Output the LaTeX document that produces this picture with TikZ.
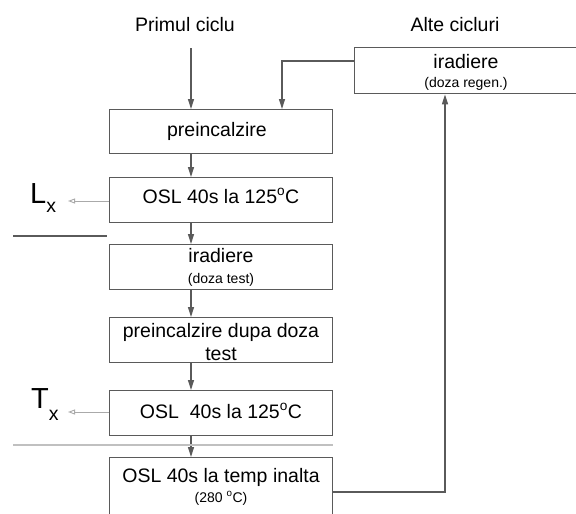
\documentclass[tikz,border=0pt]{standalone}
\usepackage{fontspec}
\setmainfont{Liberation Sans}
\usetikzlibrary{arrows.meta}
\definecolor{ln}{HTML}{5A5A5A}
\definecolor{lg}{HTML}{AAAAAA}
\definecolor{hl}{HTML}{C0C0C0}
\begin{document}
\begin{tikzpicture}[x=1pt,y=-1pt,
  boxn/.style={draw=ln, line width=1.4pt, minimum width=223pt, minimum height=45pt, inner sep=0pt, anchor=north west},
  big/.style={font=\fontsize{19.5}{21}\selectfont, inner sep=0pt, anchor=base},
  small/.style={font=\fontsize{14}{16}\selectfont, inner sep=0pt, anchor=base},
  conn/.style={draw=ln, line width=1.4pt, -{Triangle[length=10pt,width=6pt]}},
  side/.style={draw=lg, line width=0.9pt, -{Triangle[open,length=7pt,width=5pt]}},
]
\useasboundingbox (0,0) rectangle (576,514);
\clip (0,0) rectangle (576,514);

% boxes
\node[boxn, minimum height=44pt] (b1) at (109,109) {};
\node[boxn] (b2) at (109,177) {};
\node[boxn] (b3) at (109,244) {};
\node[boxn] (b4) at (109,317) {};
\node[boxn] (b5) at (109,390) {};
\node[boxn, minimum height=71pt] (b6) at (109,457) {};
\node[boxn, minimum width=232pt, minimum height=46pt] (r) at (354,47) {};

% titles
\node[big] (t1) at (185,31) {Primul ciclu};
\node[big] (t2) at (455,31) {Alte cicluri};

% box texts
\node[big] (x1) at (217,136) {preincalzire};
\node[big] (x2) at (221,203) {OSL 40s la 125\textsuperscript{o}C};
\node[big] (x3a) at (221,262) {iradiere};
\node[small] (x3b) at (221,283) {(doza test)};
\node[big] (x4a) at (221,337) {preincalzire dupa doza};
\node[big] (x4b) at (221,360) {test};
\node[big] (x5) at (221,418) {OSL\ \ 40s la 125\textsuperscript{o}C};
\node[big] (x6a) at (221,482) {OSL 40s la temp inalta};
\node[small] (x6b) at (221,502) {(280 \textsuperscript{o}C)};
\node[big] (xra) at (466,68) {iradiere};
\node[small] (xrb) at (466,87) {(doza regen.)};

% side labels
\node[inner sep=0pt, anchor=base west] (lx) at (30,203) {{\fontsize{29}{30}\selectfont L}\raisebox{-9pt}{\fontsize{19.5}{20}\selectfont x}};
\node[inner sep=0pt, anchor=base west] (tx) at (31,408) {{\fontsize{29}{30}\selectfont T}\raisebox{-12pt}{\fontsize{19.5}{20}\selectfont x}};

% coordinates
\coordinate (p1) at (191,48);
\coordinate (rl) at (354,61);
\coordinate (c1) at (282,61);
\coordinate (c2) at (445,492);
\coordinate (lxa) at (68,201);
\coordinate (txa) at (68,412);

% connectors
\draw[conn] (p1) -- (p1 |- b1.north);
\draw[conn] (rl) -- (c1) -- (c1 |- b1.north);
\draw[conn] (b1.south -| p1) -- (b2.north -| p1);
\draw[conn] (b2.south -| p1) -- (b3.north -| p1);
\draw[conn] (b3.south -| p1) -- (b4.north -| p1);
\draw[conn] (b4.south -| p1) -- (b5.north -| p1);
\draw[conn] (b5.south -| p1) -- (b6.north -| p1);
\draw[conn] (b6.east |- c2) -- (c2) -- (c2 |- r.south);

\draw[side] (b2.west |- lxa) -- (lxa);
\draw[side] (b5.west |- txa) -- (txa);

% separator lines
\draw[draw=ln, line width=1.3pt] (13,236) -- (107,236);
\draw[draw=hl, line width=1.3pt] (13,445) -- (333,445);
\end{tikzpicture}
\end{document}
